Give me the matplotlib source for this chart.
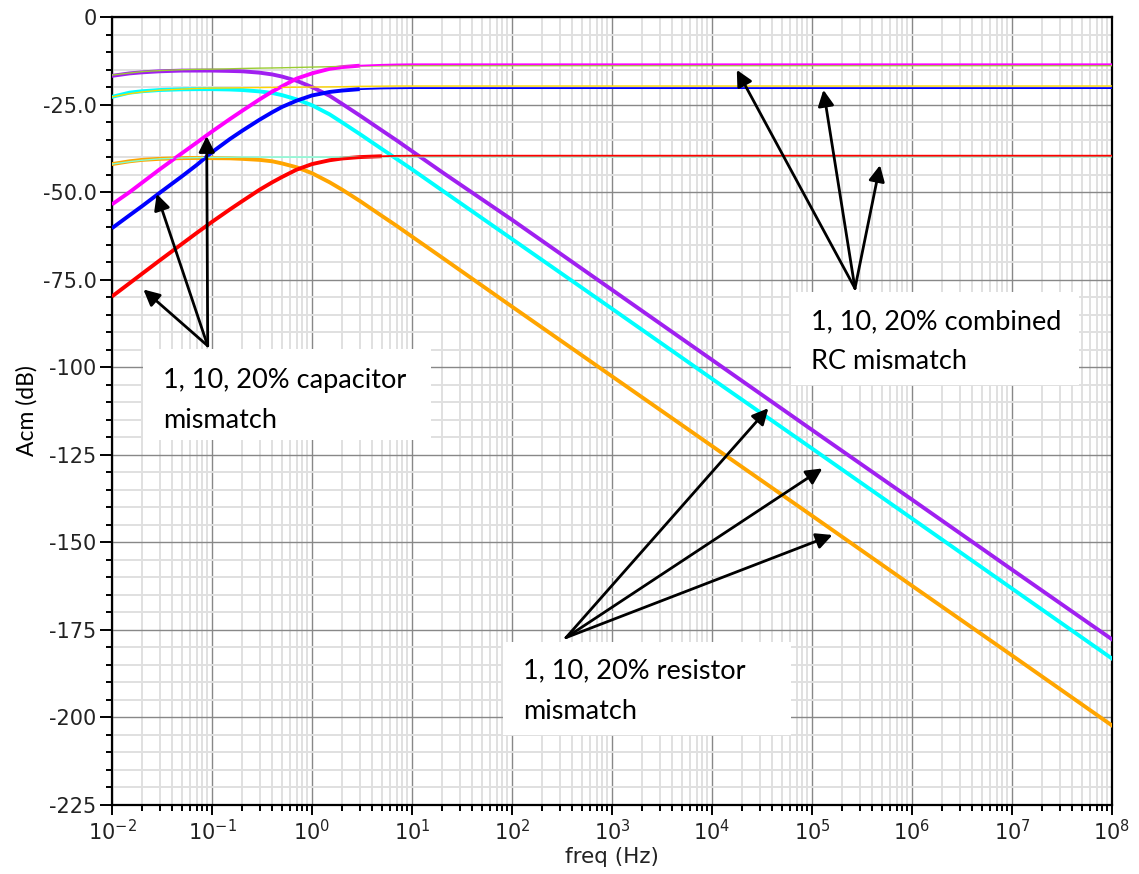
import matplotlib
matplotlib.use("Agg")
import matplotlib.pyplot as plt
from matplotlib.patches import Rectangle
from matplotlib.ticker import FixedLocator, FixedFormatter, LogLocator, NullFormatter

# ---------------- data ----------------
freq = [0.01, 0.015, 0.02, 0.03, 0.05, 0.07, 0.1, 0.15, 0.2, 0.3, 0.4, 0.5, 0.7,
        1, 1.5, 2, 3, 5, 7, 10, 20, 1e2, 1e3, 1e4, 1e5, 1e6, 1e7, 1e8]

# resistor mismatch (20, 10, 1 %)
res_20 = [-16.8, -16.1, -15.8, -15.5, -15.3, -15.3, -15.3, -15.4, -15.5, -15.9, -16.4,
          -17.0, -18.2, -20.0, -22.5, -24.8, -28.1, -32.4, -35.2, -38.3, -44.3,
          -57.9, -77.9, -97.9, -117.9, -137.8, -157.8, -177.7]
res_10 = [-22.8, -21.6, -21.2, -20.85, -20.65, -20.6, -20.6, -20.7, -20.85, -21.25, -21.7,
          -22.3, -23.5, -25.2, -27.8, -30.1, -33.4, -37.7, -40.5, -43.5, -49.5,
          -63.4, -83.3, -103.3, -123.2, -143.2, -163.2, -183.2]
res_1 = [-42.0, -41.2, -40.8, -40.5, -40.3, -40.25, -40.3, -40.35, -40.5, -40.8, -41.2,
         -41.8, -42.9, -44.6, -47.2, -49.3, -52.5, -56.8, -59.6, -62.7, -68.7,
         -82.7, -102.6, -122.5, -142.4, -162.4, -182.3, -202.3]

# capacitor mismatch (20, 10, 1 %)
cap_20 = [-53.5, -50.0, -47.3, -43.5, -38.9, -35.9, -32.7, -29.2, -26.8, -23.5, -21.3,
          -19.8, -17.6, -16.1, -14.8, -14.3, -13.9, -13.65, -13.55, -13.5, -13.5,
          -13.5, -13.5, -13.5, -13.5, -13.5, -13.5, -13.5]
cap_10 = [-60.3, -56.6, -54.0, -50.2, -45.5, -42.3, -38.6, -34.9, -32.5, -29.3, -27.2,
          -25.7, -23.9, -22.4, -21.4, -21.0, -20.6, -20.4, -20.35, -20.3, -20.3,
          -20.3, -20.3, -20.3, -20.3, -20.3, -20.3, -20.3]
cap_1 = [-79.8, -76.0, -73.3, -69.5, -64.8, -61.7, -58.5, -55.0, -52.6, -49.3, -47.2,
         -45.7, -43.6, -42.0, -40.9, -40.4, -40.0, -39.75, -39.65, -39.6, -39.6,
         -39.6, -39.6, -39.6, -39.6, -39.6, -39.6, -39.6]

# combined RC mismatch (20, 10, 1 %)
rc_20 = [-16.6, -16.0, -15.6, -15.3, -15.05, -14.95, -14.9, -14.8, -14.7, -14.6, -14.55,
         -14.5, -14.4, -14.3, -14.2, -14.1, -14.0, -13.95, -13.9, -13.9, -13.9,
         -13.9, -13.9, -13.9, -13.9, -13.9, -13.9, -13.9]
rc_10 = [-22.8, -21.9, -21.4, -20.9, -20.6, -20.4, -20.3, -20.25, -20.2, -20.15, -20.1,
         -20.1, -20.05, -20.0, -19.95, -19.9, -19.8, -19.75, -19.7, -19.7, -19.7,
         -19.7, -19.7, -19.7, -19.7, -19.7, -19.7, -19.7]
rc_1 = [-42.0, -41.3, -40.9, -40.5, -40.25, -40.15, -40.1, -40.05, -40.0, -40.0, -40.0,
        -40.0, -40.0, -40.0, -40.0, -40.0, -39.95, -39.9, -39.9, -39.9, -39.9,
        -39.9, -39.9, -39.9, -39.9, -39.9, -39.9, -39.9]

y_ticks = [0, -25, -50, -75, -100, -125, -150, -175, -200, -225]
y_tick_labels = ["0", "-25.0", "-50.0", "-75.0", "-100", "-125", "-150", "-175", "-200", "-225"]
x_decades = [1e-2, 1e-1, 1e0, 1e1, 1e2, 1e3, 1e4, 1e5, 1e6, 1e7, 1e8]
x_tick_labels = [r"$10^{-2}$", r"$10^{-1}$", r"$10^{0}$", r"$10^{1}$", r"$10^{2}$",
                 r"$10^{3}$", r"$10^{4}$", r"$10^{5}$", r"$10^{6}$", r"$10^{7}$", r"$10^{8}$"]

label_cap = ["1, 10, 20% capacitor", "mismatch"]
label_rc = ["1, 10, 20% combined", "RC mismatch"]
label_res = ["1, 10, 20% resistor", "mismatch"]

# ---------------- figure ----------------
plt.rcParams["mathtext.fontset"] = "dejavusans"
W, H = 1139, 874
fig = plt.figure(figsize=(W / 100, H / 100), dpi=100)
L, R, T, B = 112, 1112, 17, 805
ax = fig.add_axes([L / W, 1 - B / H, (R - L) / W, (B - T) / H])

ax.set_xscale("log")
ax.set_xlim(1e-2, 1e8)
ax.set_ylim(-225, 0)

ax.xaxis.set_major_locator(FixedLocator(x_decades))
ax.xaxis.set_major_formatter(FixedFormatter(x_tick_labels))
ax.xaxis.set_minor_locator(LogLocator(base=10, subs=range(2, 10), numticks=100))
ax.xaxis.set_minor_formatter(NullFormatter())
ax.yaxis.set_major_locator(FixedLocator(y_ticks))
ax.yaxis.set_major_formatter(FixedFormatter(y_tick_labels))
ax.yaxis.set_minor_locator(FixedLocator(list(range(-225, 1, 5))))

ax.grid(which="minor", color="#e0e0e0", lw=1.4, zorder=0)
ax.grid(which="major", color="#888888", lw=1.0, zorder=0.5)
ax.set_axisbelow(True)

for s in ax.spines.values():
    s.set_linewidth(1.6)
    s.set_color("black")

ax.tick_params(axis="y", which="major", direction="out", length=9, width=1.4,
               labelsize=15, pad=2, labelcolor="#222222")
ax.tick_params(axis="y", which="minor", direction="out", length=4, width=1.4)
ax.tick_params(axis="x", which="major", direction="out", length=7, width=1.4,
               labelsize=15, pad=3, labelcolor="#222222")
ax.tick_params(axis="x", which="minor", direction="out", length=4, width=1.4)

thick = 2.8
thin = 1.0

# resistor curves
ax.plot(freq, res_20, color="#a020f0", lw=thick, zorder=3)
ax.plot(freq, res_10, color="#00ffff", lw=thick, zorder=3)
ax.plot(freq, res_1, color="#ffa500", lw=thick, zorder=3)

# capacitor curves: thin over the whole range, thick where they still move
ax.plot(freq, cap_20, color="#ff00ff", lw=thin + 0.3, zorder=3.2)
ax.plot(freq, cap_10, color="#0000ff", lw=thin + 0.3, zorder=3.2)
ax.plot(freq, cap_1, color="#ff0000", lw=thin + 0.3, zorder=3.2)
ax.plot([f for f in freq if f <= 3], [v for f, v in zip(freq, cap_20) if f <= 3],
        color="#ff00ff", lw=thick, zorder=3.1, solid_capstyle="butt")
ax.plot([f for f in freq if f <= 3], [v for f, v in zip(freq, cap_10) if f <= 3],
        color="#0000ff", lw=thick, zorder=3.1, solid_capstyle="butt")
ax.plot([f for f in freq if f <= 5], [v for f, v in zip(freq, cap_1) if f <= 5],
        color="#ff0000", lw=thick, zorder=3.1, solid_capstyle="butt")

# combined RC thin lines
ax.plot(freq, rc_20, color="#9acd32", lw=thin, zorder=3.15)
ax.plot(freq, rc_10, color="#ffd700", lw=thin, zorder=3.15)
ax.plot(freq, rc_1, color="#7fffd4", lw=thin, zorder=3.15)

ax.set_xlabel("freq (Hz)", fontsize=15.5, family="DejaVu Sans", color="#222222", labelpad=2)
ax.set_ylabel("Acm (dB)", fontsize=16.5, family="Lato", labelpad=4)


# ---------------- annotation boxes ----------------
def px_to_ax(px, py):
    return (px - L) / (R - L), (B - py) / (B - T)


def box(x0, y0, x1, y1, lines, tx, tys):
    a0 = px_to_ax(x0, y1)
    a1 = px_to_ax(x1, y0)
    ax.add_patch(Rectangle(a0, a1[0] - a0[0], a1[1] - a0[1], transform=ax.transAxes,
                           facecolor="white", edgecolor="none", zorder=5))
    for line, ty in zip(lines, tys):
        p = px_to_ax(tx, ty)
        ax.text(p[0], p[1], line, transform=ax.transAxes, fontsize=19.5, family="Lato",
                va="baseline", ha="left", color="black", zorder=6)


box(143, 349, 431, 440, label_cap, 163, [388, 428])
box(791, 292, 1079, 385, label_rc, 811, [329, 369])
box(503, 642, 791, 735, label_res, 523, [678, 719])


def arrow(tail, head):
    ax.annotate("", xy=head, xytext=tail, xycoords="data", textcoords="data",
                arrowprops=dict(arrowstyle="-|>", color="black", lw=2.0,
                                mutation_scale=24, shrinkA=0, shrinkB=0),
                zorder=7)


cap_tail = (0.0906, -93.9)
for head in [(0.0206, -77.8), (0.028, -50.5), (0.0885, -34.0)]:
    arrow(cap_tail, head)
rc_tail = (2.69e5, -77.5)
for head in [(1.77e4, -15.1), (1.30e5, -20.8), (4.79e5, -42.3)]:
    arrow(rc_tail, head)
res_tail = (347, -177.2)
for head in [(3.66e4, -111.7), (1.27e5, -128.9), (1.60e5, -147.9)]:
    arrow(res_tail, head)

fig.savefig("out.png", dpi=100, facecolor="white")
